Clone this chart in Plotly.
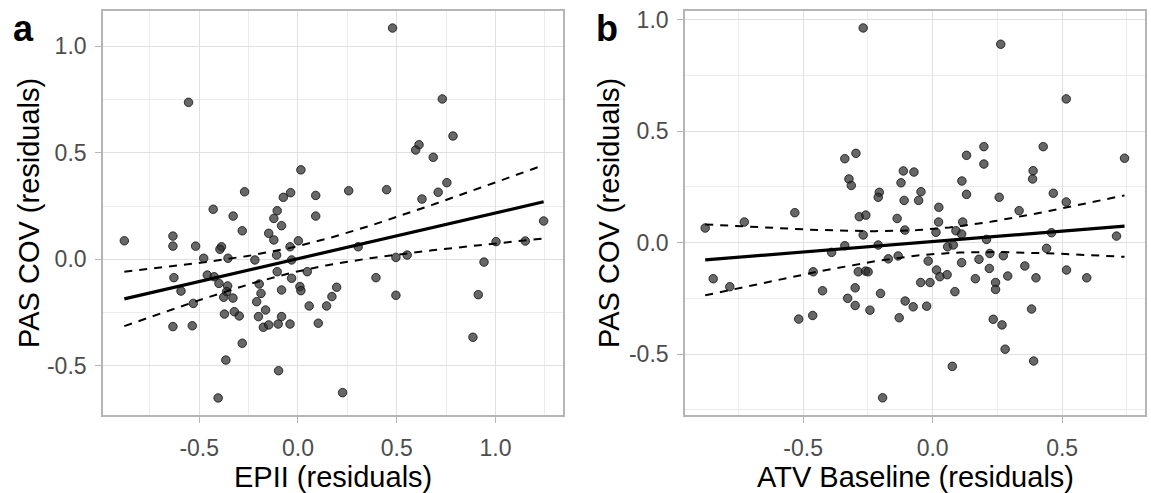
import numpy as np
import plotly.graph_objects as go

# ---------------- data ----------------
epii_x = [-0.554, 0.015, -0.27, -0.429, -0.328, -0.074, -0.037, 0.09, -0.105, -0.122,
          0.09, 0.479, 0.731, 0.785, 0.613, 0.596, 0.685, 0.257, 0.449, 0.754,
          0.71, 0.628, 1.244, -0.879, -0.633, -0.633, -0.518, -0.282, -0.148, -0.122,
          -0.083, 0.002, -0.04, -0.387, -0.395, -0.354, -0.477, -0.459, -0.424, -0.628,
          -0.592, -0.53, -0.4, -0.356, -0.361, -0.376, -0.329, -0.372, -0.322, -0.297,
          -0.282, -0.365, -0.404, -0.633, -0.535, -0.218, -0.108, -0.196, -0.187, -0.209,
          -0.164, -0.2, -0.175, -0.148, -0.105, -0.083, -0.083, -0.1, -0.04, -0.098,
          -0.032, -0.032, 0.01, 0.015, 0.057, 0.047, 0.103, 0.305, 0.496, 0.553,
          1.003, 1.151, 0.942, 0.395, 0.496, 0.913, 0.886, 0.226, 0.196, 0.172, 0.145]
epii_y = [0.737, 0.42, 0.317, 0.235, 0.203, 0.291, 0.313, 0.30, 0.228, 0.192,
          0.203, 1.086, 0.753, 0.579, 0.538, 0.513, 0.479, 0.322, 0.327, 0.36,
          0.315, 0.283, 0.18, 0.087, 0.109, 0.062, 0.062, 0.134, 0.122, 0.091,
          0.158, 0.087, 0.059, 0.059, 0.047, 0.005, 0.005, -0.074, -0.082, -0.086,
          -0.149, -0.207, -0.113, -0.125, -0.152, -0.178, -0.182, -0.257, -0.246, -0.266,
          -0.394, -0.473, -0.651, -0.316, -0.312, -0.003, 0.02, -0.116, -0.16, -0.199,
          -0.238, -0.269, -0.319, -0.308, -0.058, -0.144, -0.269, -0.304, -0.304, -0.523,
          -0.089, -0.003, -0.128, -0.147, -0.219, -0.058, -0.3, 0.059, 0.009, 0.02,
          0.083, 0.086, -0.013, -0.086, -0.169, -0.166, -0.366, -0.626, -0.131, -0.175, -0.219]

atv_x = [-0.268, -0.296, -0.339, -0.323, -0.314, -0.532, -0.727, -0.206, -0.21, -0.283,
         -0.258, 0.263, 0.516, 0.741, 0.198, 0.427, 0.131, 0.198, 0.388, 0.386,
         -0.113, -0.072, -0.122, 0.113, -0.045, -0.11, -0.054, 0.131, 0.257, 0.466,
         0.024, 0.334, 0.516, -0.137, 0.023, 0.116, -0.268, -0.107, 0.013, 0.09,
         0.112, 0.208, 0.459, 0.71, -0.21, 0.058, 0.08, 0.221, 0.273, 0.44,
         -0.133, -0.171, -0.017, 0.112, 0.179, 0.219, 0.356, 0.517, 0.595, 0.399,
         0.29, 0.165, 0.243, 0.243, 0.015, 0.028, 0.056, -0.046, -0.01, 0.086,
         -0.201, -0.106, -0.075, -0.023, -0.242, -0.129, 0.382, 0.234, 0.268, 0.28,
         0.39, 0.076, -0.193, -0.878, -0.339, -0.39, -0.847, -0.783, -0.461, -0.287,
         -0.259, -0.249, -0.425, -0.299, -0.328, -0.299, -0.517, -0.463]
atv_y = [0.962, 0.4, 0.376, 0.285, 0.256, 0.134, 0.092, 0.225, 0.203, 0.116,
         0.123, 0.889, 0.644, 0.378, 0.43, 0.43, 0.391, 0.352, 0.322, 0.285,
         0.321, 0.316, 0.268, 0.276, 0.228, 0.189, 0.189, 0.216, 0.203, 0.221,
         0.158, 0.143, 0.182, 0.108, 0.092, 0.092, 0.034, 0.056, 0.046, 0.053,
         0.038, 0.014, 0.044, 0.029, -0.011, -0.019, -0.011, -0.049, -0.059, -0.026,
         -0.06, -0.073, -0.083, -0.09, -0.075, -0.116, -0.105, -0.123, -0.158, -0.158,
         -0.15, -0.162, -0.179, -0.21, -0.123, -0.153, -0.144, -0.179, -0.179, -0.22,
         -0.228, -0.262, -0.288, -0.285, -0.303, -0.337, -0.298, -0.344, -0.369, -0.478,
         -0.531, -0.555, -0.696, 0.065, -0.014, -0.044, -0.162, -0.198, -0.131, -0.131,
         -0.128, -0.131, -0.216, -0.203, -0.25, -0.282, -0.343, -0.327]

tick_vals = [-0.5, 0.0, 0.5, 1.0]
tick_text = ["-0.5", "0.0", "0.5", "1.0"]
x_titles = ["EPII (residuals)", "ATV Baseline (residuals)"]
y_title = "PAS COV (residuals)"
panel_tags = ["a", "b"]

# ---------------- linear fit with 95% CI (as geom_smooth(method="lm")) -------------
T975 = 1.985


def lm_band(xs, ys):
    x = np.asarray(xs, float)
    y = np.asarray(ys, float)
    n = len(x)
    b, a = np.polyfit(x, y, 1)
    res = y - (a + b * x)
    s = np.sqrt(np.sum(res ** 2) / (n - 2))
    sxx = np.sum((x - x.mean()) ** 2)
    grid = np.linspace(x.min(), x.max(), 80)
    fit = a + b * grid
    se = s * np.sqrt(1.0 / n + (grid - x.mean()) ** 2 / sxx)
    return grid, fit, fit - T975 * se, fit + T975 * se


FILL = "rgba(45,45,45,0.72)"
EDGE = "rgba(15,15,15,0.8)"
GRID = "#e0e0e0"
BORDER = "#b5b5b5"
TICKC = "#4d4d4d"
FONT = "Liberation Sans, Arial, sans-serif"

fig = go.Figure()

panels = [(epii_x, epii_y, "x", "y"), (atv_x, atv_y, "x2", "y2")]
for xs, ys, xa, ya in panels:
    fig.add_trace(go.Scatter(x=xs, y=ys, mode="markers", xaxis=xa, yaxis=ya,
                             marker=dict(size=8.5, color=FILL,
                                         line=dict(color=EDGE, width=1)),
                             showlegend=False, hoverinfo="skip"))
    g, f, lo, hi = lm_band(xs, ys)
    for band in (lo, hi):
        fig.add_trace(go.Scatter(x=g, y=band, mode="lines", xaxis=xa, yaxis=ya,
                                 line=dict(color="black", width=2, dash="8px,7px"),
                                 showlegend=False, hoverinfo="skip"))
    fig.add_trace(go.Scatter(x=g, y=f, mode="lines", xaxis=xa, yaxis=ya,
                             line=dict(color="black", width=3.2),
                             showlegend=False, hoverinfo="skip"))

W, H = 1151, 493


def px_x(p):
    return p / W


def px_y(p):
    return 1 - p / H


common = dict(showline=True, mirror=True, linecolor=BORDER, linewidth=1.6,
              showgrid=True, gridcolor=GRID, gridwidth=1, zeroline=False,
              automargin=False,
              ticks="outside", ticklen=6, tickwidth=1.4, tickcolor=BORDER,
              tickfont=dict(size=23, color=TICKC, family=FONT),
              tickvals=tick_vals, ticktext=tick_text,
              minor=dict(showgrid=True, gridcolor="#ececec", gridwidth=0.8,
                         tick0=0, dtick=0.25, ticks=""))

fig.update_layout(
    width=W, height=H,
    margin=dict(l=0, r=0, t=0, b=0, autoexpand=False),
    paper_bgcolor="white", plot_bgcolor="white",
    font=dict(family=FONT),
    xaxis=dict(domain=[px_x(103), px_x(563)], range=[-0.987, 1.342], anchor="y",
               ticklabelstandoff=6, **common),
    yaxis=dict(domain=[px_y(415), px_y(11)], range=[-0.731, 1.166], anchor="x",
               ticklabelstandoff=4, **common),
    xaxis2=dict(domain=[px_x(685), px_x(1145)], range=[-0.956, 0.82], anchor="y2",
                ticklabelstandoff=6, **common),
    yaxis2=dict(domain=[px_y(415), px_y(11)], range=[-0.773, 1.038], anchor="x2",
                ticklabelstandoff=4, **common),
)

annos = []
for i, (cx, ycx, tagx) in enumerate([(333, 29, 11), (915, 609, 594)]):
    annos.append(dict(text=x_titles[i], x=px_x(cx), y=px_y(477), xref="paper", yref="paper",
                      xanchor="center", yanchor="middle", showarrow=False, borderpad=0,
                      font=dict(size=29, color="black", family=FONT)))
    annos.append(dict(text=y_title, x=px_x(ycx), y=px_y(213), xref="paper", yref="paper",
                      xanchor="center", yanchor="middle", textangle=-90, showarrow=False,
                      borderpad=0, font=dict(size=29, color="black", family=FONT)))
    annos.append(dict(text="<b>%s</b>" % panel_tags[i], x=px_x(tagx), y=px_y(6),
                      xref="paper", yref="paper", xanchor="left", yanchor="top",
                      showarrow=False, font=dict(size=36, color="black", family=FONT)))
fig.update_layout(annotations=annos)

fig.write_html("out.html", config={"displayModeBar": False},
               post_script="document.body.style.margin='0px';document.body.style.padding='0px';")
